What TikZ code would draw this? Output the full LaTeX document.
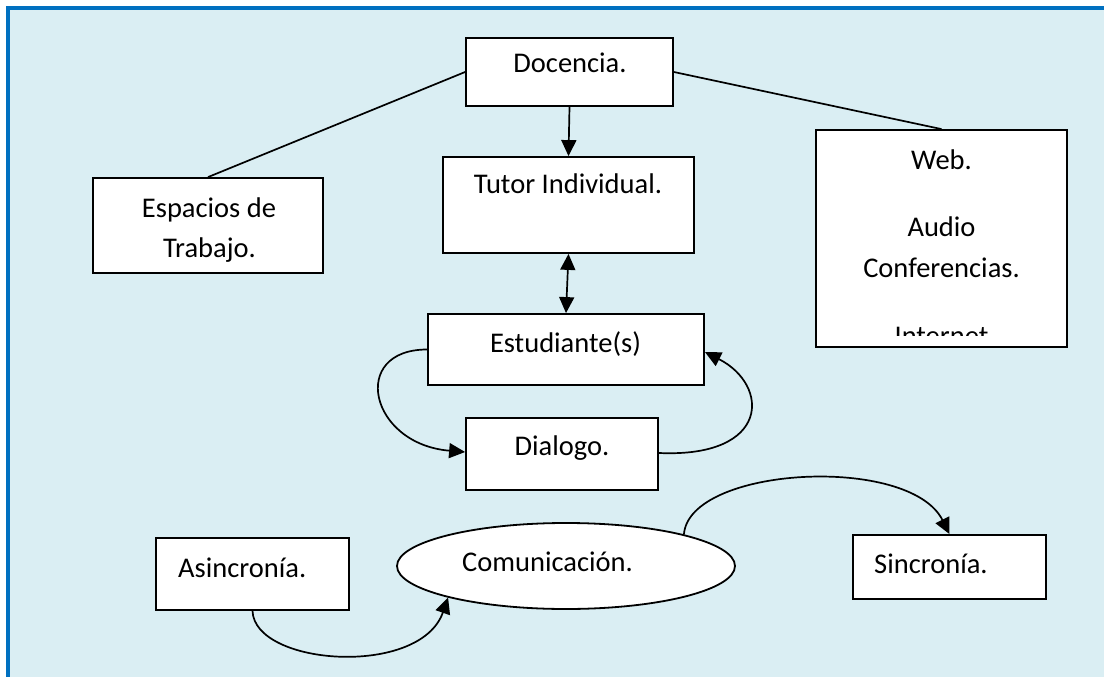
\documentclass[tikz,border=0pt]{standalone}
\usepackage{fontspec}
\setmainfont{Carlito}
\usetikzlibrary{arrows.meta,shapes.geometric}
\definecolor{bgblue}{HTML}{DAEEF3}
\definecolor{frameblue}{HTML}{0070C0}
\begin{document}
\begin{tikzpicture}[x=1pt,y=-1pt,
  box/.style={draw=black,fill=white,line width=1.8pt,inner sep=0pt},
  oval/.style={ellipse,draw=black,fill=white,line width=1.8pt,inner sep=0pt},
  txt/.style={inner sep=0pt,font=\fontsize{28.5}{34}\selectfont,anchor=base},
  ltxt/.style={txt,anchor=base west},
  conn/.style={line width=1.7pt},
  arr/.style={conn,-{Triangle[length=16pt,width=15pt]}},
  darr/.style={conn,{Triangle[length=16pt,width=15pt]}-{Triangle[length=16pt,width=15pt]}}]
\useasboundingbox (0,0) rectangle (1104,677);
\fill[bgblue] (8,8) rectangle (1104,677);
\draw[frameblue,line width=4pt] (8,677) -- (8,8) -- (1104,8);

% boxes
\node[box,minimum width=207pt,minimum height=68pt] (doc) at (569.5,72) {};
\node[box,minimum width=251pt,minimum height=96pt] (tut) at (568.5,205) {};
\node[box,minimum width=230pt,minimum height=95pt] (esp) at (208,225.5) {};
\node[box,minimum width=251pt,minimum height=217pt] (web) at (941.5,238.5) {};
\node[box,minimum width=276pt,minimum height=71pt] (est) at (566,349.5) {};
\node[box,minimum width=192pt,minimum height=72pt] (dia) at (562,454) {};
\node[box,minimum width=193pt,minimum height=72pt] (asi) at (252.5,574) {};
\node[oval,minimum width=338pt,minimum height=86pt] (com) at (566,566) {};
\node[box,minimum width=193pt,minimum height=64pt] (sin) at (949.5,567) {};

% texts
\node[txt] (docT) at (570,73) {Docencia.};
\node[txt] (tutT) at (568,193) {Tutor Individual.};
\node[txt] (espT1) at (209,217) {Espacios de};
\node[txt] (espT2) at (209.5,257) {Trabajo.};
\node[txt] (webT1) at (941.5,169) {Web.};
\node[txt] (webT2) at (941.5,236) {Audio};
\node[txt] (webT3) at (941.5,277) {Conferencias.};
\begin{scope}
  \clip (816,130) rectangle (1067,335);
  \node[txt] (webT4) at (941.5,345) {Internet};
\end{scope}
\node[txt] (estT) at (565.5,352) {Estudiante(s)};
\node[txt] (diaT) at (562,455) {Dialogo.};
\node[ltxt] (asiT) at (178,577) {Asincronía.};
\node[ltxt] (comT) at (462,571) {Comunicación.};
\node[ltxt] (sinT) at (874,573) {Sincronía.};

% connectors
\draw[conn] (doc.west) -- (esp.north);
\draw[conn] (doc.east) -- (web.north);
\draw[arr] (doc.south) -- (tut.north);
\draw[darr] (tut.south) -- (est.north);
\draw[arr] (est.west) .. controls +(-78,0) and +(-96,-8) .. ([yshift=2pt]dia.west);
\draw[arr] ([yshift=1pt]dia.east) .. controls +(112,5) and +(65,33) .. ([yshift=-2.5pt]est.east);
\draw[arr] (asi.south) .. controls +(2,55) and +(-28,80) .. (com.195);
\draw[arr] (com.15) .. controls +(5,-68) and +(-40,-80) .. (sin.north);
\end{tikzpicture}
\end{document}
